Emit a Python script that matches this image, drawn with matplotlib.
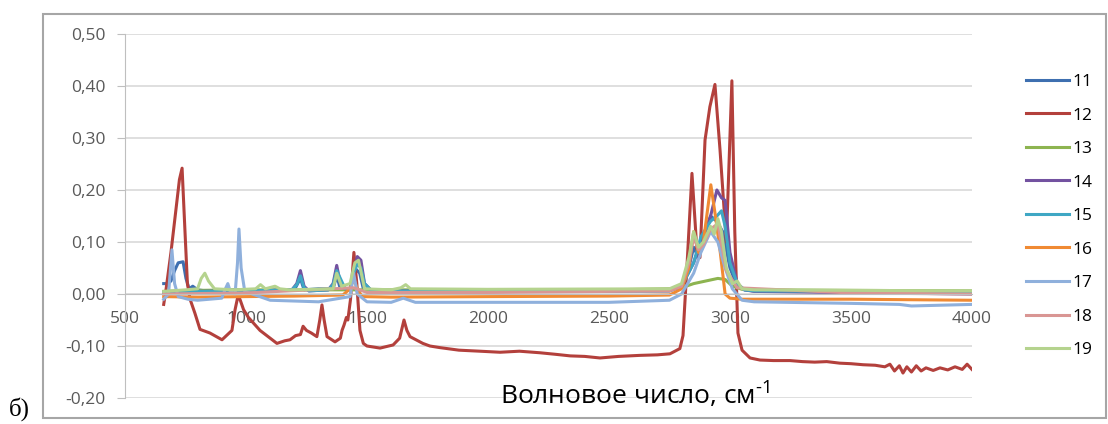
import matplotlib
matplotlib.use('Agg')
import matplotlib.pyplot as plt
from matplotlib.patches import Rectangle
from matplotlib.ticker import FuncFormatter

# Данные спектров
labels = ['11', '12', '13', '14', '15', '16', '17', '18', '19']
colors = ['#3E6FB0', '#B3403C', '#8DB450', '#7352A0', '#3FA7C4', '#F08A33', '#8FB0DC', '#D99694', '#B5D38E']

x11 = [660, 675, 690, 705, 720, 740, 752, 765, 780, 800, 850, 950, 1100, 1200, 1225, 1240, 1300, 1360, 1375, 1390,
       1430, 1450, 1470, 1485, 1500, 1700, 2000, 2500, 2750, 2800, 2830, 2850, 2870, 2900, 2920, 2945, 2970, 3000,
       3030, 3060, 3100, 3500, 4000]
y11 = [0.02, 0.02, 0.025, 0.045, 0.06, 0.062, 0.03, 0.01, 0.015, 0.008, 0.005, 0.008, 0.006, 0.008, 0.03, 0.008,
       0.01, 0.01, 0.035, 0.01, 0.01, 0.05, 0.04, 0.01, 0.006, 0.006, 0.006, 0.006, 0.008, 0.015, 0.05, 0.09, 0.07,
       0.12, 0.15, 0.14, 0.12, 0.05, 0.015, 0.008, 0.006, 0.004, 0.003]

x12 = [660, 670, 690, 710, 725, 736, 748, 758, 769, 789, 810, 851, 901, 942, 955, 965, 975, 990, 1010, 1058,
       1100, 1128, 1160, 1182, 1205, 1225, 1236, 1250, 1270, 1293, 1305, 1314, 1323, 1335, 1368, 1390, 1397, 1405,
       1415, 1421, 1432, 1446, 1458, 1471, 1485, 1500, 1554, 1608, 1635, 1653, 1665, 1678, 1731, 1760, 1800, 1880,
       1967, 2050, 2130, 2215, 2280, 2340, 2400, 2463, 2540, 2628, 2700, 2752, 2793, 2806, 2822, 2843, 2864, 2876,
       2897, 2917, 2938, 2959, 2985, 3008, 3020, 3033, 3050, 3083, 3124, 3180, 3248, 3300, 3350, 3400, 3454, 3500,
       3550, 3600, 3640, 3661, 3680, 3700, 3715, 3731, 3750, 3770, 3790, 3810, 3840, 3868, 3900, 3930, 3960, 3980,
       3990, 4000]
y12 = [-0.02, 0.01, 0.08, 0.16, 0.22, 0.242, 0.12, 0.02, -0.01, -0.037, -0.068, -0.075, -0.088, -0.07, -0.03,
       -0.008, -0.01, -0.03, -0.045, -0.07, -0.085, -0.095, -0.09, -0.088, -0.08, -0.078, -0.062, -0.07, -0.075,
       -0.082, -0.05, -0.021, -0.05, -0.082, -0.092, -0.085, -0.07, -0.06, -0.045, -0.05, -0.01, 0.08, 0.02, -0.07,
       -0.095, -0.1, -0.104, -0.098, -0.085, -0.05, -0.07, -0.082, -0.095, -0.1, -0.103, -0.108, -0.11, -0.112,
       -0.11, -0.113, -0.116, -0.119, -0.12, -0.123, -0.12, -0.118, -0.117, -0.115, -0.105, -0.08, 0.05, 0.232,
       0.08, 0.07, 0.296, 0.36, 0.403, 0.277, 0.10, 0.41, 0.12, -0.075, -0.108, -0.123, -0.127, -0.128, -0.128,
       -0.13, -0.131, -0.13, -0.133, -0.134, -0.136, -0.137, -0.14, -0.135, -0.148, -0.138, -0.152, -0.14, -0.15,
       -0.138, -0.148, -0.142, -0.147, -0.142, -0.146, -0.14, -0.145, -0.135, -0.14, -0.145]

x13 = [660, 800, 1000, 1200, 1500, 2000, 2500, 2750, 2800, 2850, 2900, 2950, 2980, 3010, 3050, 3100, 3500, 4000]
y13 = [0.005, 0.007, 0.008, 0.008, 0.008, 0.008, 0.008, 0.01, 0.012, 0.02, 0.025, 0.03, 0.028, 0.015, 0.009,
       0.008, 0.007, 0.006]

x14 = [660, 800, 1000, 1190, 1210, 1225, 1240, 1260, 1340, 1360, 1375, 1390, 1410, 1430, 1445, 1460, 1475, 1490,
       1520, 2000, 2750, 2800, 2850, 2880, 2920, 2946, 2965, 2980, 3000, 3030, 3060, 3100, 4000]
y14 = [0.003, 0.005, 0.006, 0.008, 0.02, 0.045, 0.015, 0.006, 0.008, 0.02, 0.055, 0.02, 0.01, 0.01, 0.04, 0.072,
       0.065, 0.02, 0.006, 0.005, 0.006, 0.015, 0.06, 0.1, 0.15, 0.2, 0.185, 0.18, 0.08, 0.02, 0.008, 0.005, 0.0]

x15 = [660, 800, 1000, 1190, 1210, 1225, 1240, 1260, 1340, 1360, 1375, 1390, 1410, 1430, 1445, 1460, 1475, 1490,
       1520, 2000, 2750, 2800, 2850, 2880, 2920, 2946, 2965, 2980, 3000, 3030, 3060, 3100, 4000]
y15 = [0.003, 0.005, 0.006, 0.008, 0.018, 0.035, 0.012, 0.006, 0.008, 0.018, 0.045, 0.03, 0.01, 0.01, 0.04, 0.058,
       0.05, 0.02, 0.006, 0.005, 0.006, 0.015, 0.06, 0.11, 0.14, 0.15, 0.16, 0.13, 0.06, 0.02, 0.008, 0.006, 0.004]

x16 = [660, 800, 1000, 1200, 1400, 1430, 1445, 1460, 1480, 1600, 2000, 2500, 2750, 2800, 2830, 2850, 2870, 2890,
       2921, 2940, 2960, 2980, 3000, 3050, 3100, 3500, 4000]
y16 = [-0.005, -0.006, -0.005, -0.004, -0.002, 0.01, 0.03, 0.01, -0.005, -0.006, -0.005, -0.004, -0.002, 0.01,
       0.05, 0.12, 0.08, 0.1, 0.21, 0.15, 0.08, 0.0, -0.008, -0.01, -0.01, -0.01, -0.012]

x17 = [660, 680, 694, 705, 720, 760, 800, 900, 915, 925, 935, 955, 965, 971, 980, 995, 1100, 1300, 1430, 1445,
       1460, 1500, 1600, 1650, 1700, 2000, 2500, 2750, 2800, 2850, 2880, 2920, 2950, 2980, 3010, 3050, 3100, 3500,
       3700, 3750, 4000]
y17 = [-0.01, 0.0, 0.085, 0.02, -0.005, -0.01, -0.012, -0.008, 0.01, 0.02, 0.005, 0.0, 0.06, 0.125, 0.05, 0.005,
       -0.012, -0.015, -0.005, 0.04, 0.0, -0.015, -0.016, -0.008, -0.016, -0.016, -0.016, -0.012, 0.0, 0.04, 0.08,
       0.12, 0.1, 0.05, 0.01, -0.012, -0.015, -0.018, -0.02, -0.023, -0.02]

x18 = [660, 1000, 1445, 1500, 2000, 2750, 2800, 2830, 2850, 2870, 2890, 2920, 2950, 2985, 3030, 3500, 4000]
y18 = [0.0, 0.002, 0.012, 0.003, 0.003, 0.006, 0.015, 0.06, 0.11, 0.085, 0.095, 0.125, 0.135, 0.045, 0.012,
       0.002, 0.0]

x19 = [660, 750, 800, 815, 830, 845, 870, 950, 1040, 1060, 1080, 1120, 1140, 1180, 1360, 1375, 1395, 1430, 1450,
       1465, 1490, 1600, 1640, 1660, 1680, 2000, 2750, 2800, 2830, 2850, 2870, 2890, 2920, 2935, 2950, 2965, 2985,
       3010, 3030, 3050, 3100, 3500, 4000]
y19 = [0.005, 0.008, 0.01, 0.03, 0.04, 0.025, 0.01, 0.008, 0.01, 0.018, 0.01, 0.015, 0.01, 0.008, 0.01, 0.04,
       0.015, 0.02, 0.06, 0.065, 0.01, 0.008, 0.012, 0.018, 0.01, 0.009, 0.01, 0.02, 0.07, 0.12, 0.09, 0.1, 0.13,
       0.115, 0.145, 0.12, 0.05, 0.02, 0.025, 0.01, 0.008, 0.007, 0.006]

xs = [x11, x12, x13, x14, x15, x16, x17, x18, x19]
ys = [y11, y12, y13, y14, y15, y16, y17, y18, y19]

plt.rcParams['font.family'] = ['Open Sans', 'DejaVu Sans']
plt.rcParams['mathtext.fontset'] = 'custom'
plt.rcParams['mathtext.rm'] = 'Open Sans'

fig = plt.figure(figsize=(11.08, 4.24), dpi=100)
ax = fig.add_axes([0.1128, 0.0613, 0.7644, 0.8585])

# cadre extérieur du graphique
fig.patches.append(Rectangle((0.0388, 0.0142), 0.959, 0.953, transform=fig.transFigure,
                             fill=False, edgecolor='#A6A6A6', linewidth=1.5))

for x, y, c, lab in zip(xs, ys, colors, labels):
    ax.plot(x, y, color=c, linewidth=2.2, label=lab, solid_joinstyle='round')

ax.set_xlim(500, 4000)
ax.set_ylim(-0.2, 0.5)
ax.set_xticks(range(500, 4001, 500))
ax.set_yticks([-0.2, -0.1, 0, 0.1, 0.2, 0.3, 0.4, 0.5])
ax.yaxis.set_major_formatter(FuncFormatter(lambda v, p: f'{v:.2f}'.replace('.', ',')))
ax.grid(axis='y', color='#D9D9D9', linewidth=1.2)
ax.set_axisbelow(True)

for s in ['top', 'right']:
    ax.spines[s].set_visible(False)
ax.spines['bottom'].set_position(('data', 0))
ax.spines['bottom'].set_color('#BFBFBF')
ax.spines['left'].set_color('#BFBFBF')
ax.tick_params(axis='x', length=0, pad=12, labelsize=12.5, labelcolor='#595959')
ax.tick_params(axis='y', length=6, color='#BFBFBF', labelsize=12.5, labelcolor='#595959', pad=8)

fig.text(0.573, 0.071, 'Волновое число, см$^{\\text{-1}}$', ha='center', va='center', fontsize=19, color='black')
fig.text(0.008, 0.008, 'б)', fontsize=18, family=['Liberation Serif', 'DejaVu Serif'], ha='left', va='bottom')

ax.legend(loc='center left', bbox_to_anchor=(0.926, 0.4906), bbox_transform=fig.transFigure,
          frameon=False, fontsize=12.5, handlelength=2.5, handletextpad=0.15, labelspacing=1.0,
          borderpad=0, borderaxespad=0)

fig.savefig('out.png', dpi=100)
